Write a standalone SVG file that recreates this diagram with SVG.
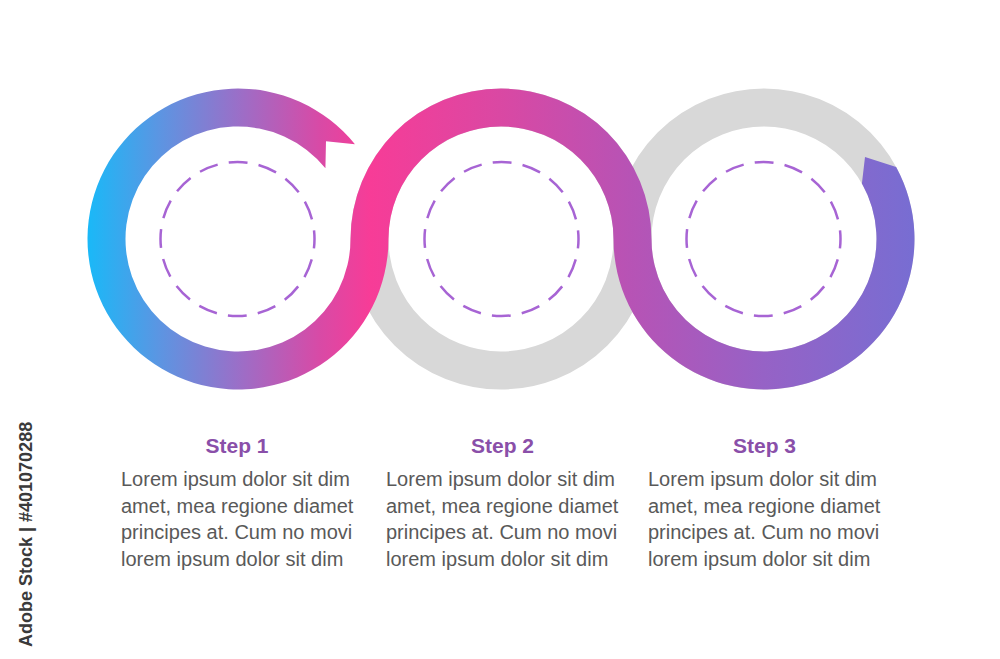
<svg xmlns="http://www.w3.org/2000/svg" width="1000" height="659" viewBox="0 0 1000 659">
  <defs>
    <linearGradient id="ribbonGrad" gradientUnits="userSpaceOnUse" x1="87" y1="0" x2="912" y2="0">
      <stop offset="0" stop-color="#19B9F8"/>
      <stop offset="0.088" stop-color="#5C95E2"/>
      <stop offset="0.183" stop-color="#9A6FC8"/>
      <stop offset="0.282" stop-color="#D84AA6"/>
      <stop offset="0.343" stop-color="#F73C97"/>
      <stop offset="0.5" stop-color="#DA48A3"/>
      <stop offset="0.658" stop-color="#B753B5"/>
      <stop offset="0.82" stop-color="#9662C6"/>
      <stop offset="1" stop-color="#786DD2"/>
    </linearGradient>
  </defs>
  <style>
    .ring { fill: none; stroke: #D8D8D8; stroke-width: 38; }
    .dash { fill: none; stroke: #A764D4; stroke-width: 2.5; stroke-dasharray: 19 11.24; }
    .title { font-family: "Liberation Sans", Arial, sans-serif; font-weight: bold; font-size: 21px; fill: #8A4FA9; text-anchor: middle; }
    .body { font-family: "Liberation Sans", Arial, sans-serif; font-size: 20px; fill: #595959; }
    .mark { font-family: "Liberation Sans", Arial, sans-serif; font-weight: bold; font-size: 18px; fill: #3A3A3A; }
  </style>
  <rect width="1000" height="659" fill="#FFFFFF"/>

  <g id="connectors">
    <circle class="ring" cx="501" cy="239" r="131.5"/>
    <circle class="ring" cx="764" cy="239" r="131.5"/>
    <path id="ribbon" fill="url(#ribbonGrad)" d="M 354.96 144.29 A 150.5 150.5 0 1 0 388.5 239 A 112.5 112.5 0 0 1 501 126.5 A 112.5 112.5 0 0 1 613.5 239 A 150.5 150.5 0 1 0 896.14 166.96 L 865 157 L 861.91 183.6 A 112.5 112.5 0 1 1 651.5 239 A 150.5 150.5 0 0 0 501 88.5 A 150.5 150.5 0 0 0 350.5 239 A 112.5 112.5 0 1 1 325.42 168.2 L 325.99 141.28 Z"/>
  </g>

  <g id="step-1">
    <circle class="dash" cx="237.5" cy="239" r="77" stroke-dashoffset="9.5"/>
    <text class="title" x="237" y="453">Step 1</text>
    <text class="body" x="121">
      <tspan x="121" y="486">Lorem ipsum dolor sit dim</tspan>
      <tspan x="121" y="513">amet, mea regione diamet</tspan>
      <tspan x="121" y="539">principes at. Cum no movi</tspan>
      <tspan x="121" y="566">lorem ipsum dolor sit dim</tspan>
    </text>
  </g>

  <g id="step-2">
    <circle class="dash" cx="501.5" cy="239" r="77" stroke-dashoffset="9.5"/>
    <text class="title" x="502.5" y="453">Step 2</text>
    <text class="body" x="386">
      <tspan x="386" y="486">Lorem ipsum dolor sit dim</tspan>
      <tspan x="386" y="513">amet, mea regione diamet</tspan>
      <tspan x="386" y="539">principes at. Cum no movi</tspan>
      <tspan x="386" y="566">lorem ipsum dolor sit dim</tspan>
    </text>
  </g>

  <g id="step-3">
    <circle class="dash" cx="763.5" cy="239" r="77" stroke-dashoffset="9.5"/>
    <text class="title" x="764.5" y="453">Step 3</text>
    <text class="body" x="648">
      <tspan x="648" y="486">Lorem ipsum dolor sit dim</tspan>
      <tspan x="648" y="513">amet, mea regione diamet</tspan>
      <tspan x="648" y="539">principes at. Cum no movi</tspan>
      <tspan x="648" y="566">lorem ipsum dolor sit dim</tspan>
    </text>
  </g>

  <text class="mark" transform="translate(32 647) rotate(-90)">Adobe Stock | #401070288</text>
</svg>
